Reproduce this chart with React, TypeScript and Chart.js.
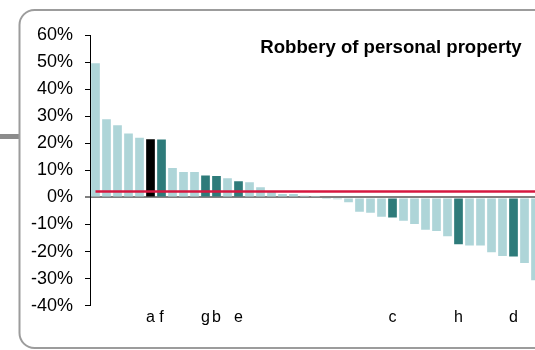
import React, { useEffect, useRef } from "react";
import { Chart, registerables } from "chart.js";

Chart.register(...registerables);

const TITLE = "Robbery of personal property";

const categories: string[] = [
  "", "", "", "", "", "a", "f", "", "", "", "g", "b", "", "e", "", "", "", "", "", "", "",
  "", "", "", "", "", "", "c", "", "", "", "", "", "h", "", "", "", "", "d", "", "",
];

const changeValues: number[] = [
  49.6, 28.9, 26.7, 23.6, 22.0, 21.5, 21.4, 10.9, 9.4, 9.4, 8.1, 7.9, 7.1, 6.0, 5.6, 3.8, 2.4, 1.3, 1.3, 0.6, 0.2,
  -0.2, -0.7, -1.8, -5.3, -5.7, -7.1, -7.4, -8.6, -9.8, -11.9, -12.4, -14.3, -17.3, -17.8, -17.8, -20.3, -21.6, -21.8, -24.2, -30.6,
];

const averageValue = 2.2;

const yTicks: number[] = [60, 50, 40, 30, 20, 10, 0, -10, -20, -30, -40];

const LIGHT = "#aed5d8";
const DARK = "#2e7b7a";
const BLACK = "#000000";
const RED = "#d6173f";

const decorPlugin = {
  id: "decor",
  beforeDraw(chart: any) {
    const ctx = chart.ctx;
    ctx.save();
    // left connector band
    ctx.fillStyle = "#8c8c8c";
    ctx.fillRect(0, 134, 19, 5);
    // rounded frame
    ctx.strokeStyle = "#9c9c9c";
    ctx.lineWidth = 2;
    const x = 19.5, y = 10, w = 700, h = 338, r = 15;
    ctx.beginPath();
    ctx.moveTo(x + r, y);
    ctx.lineTo(x + w, y);
    ctx.moveTo(x + w, y + h);
    ctx.lineTo(x + r, y + h);
    ctx.arcTo(x, y + h, x, y + h - r, r);
    ctx.lineTo(x, y + r);
    ctx.arcTo(x, y, x + r, y, r);
    ctx.stroke();
    ctx.restore();
  },
  afterDraw(chart: any) {
    const ctx = chart.ctx;
    ctx.save();
    ctx.fillStyle = "#000";
    ctx.font = "bold 18.6px 'Liberation Sans', Arial, sans-serif";
    ctx.textAlign = "center";
    ctx.textBaseline = "middle";
    ctx.fillText(TITLE, 391, 48);
    ctx.restore();
  },
};

export default function App() {
  const canvasRef = useRef<HTMLCanvasElement | null>(null);

  useEffect(() => {
    const canvas = canvasRef.current;
    if (!canvas) return;
    const colors = categories.map((c) => (c === "a" ? BLACK : c ? DARK : LIGHT));
    const chart = new Chart(canvas, {
      type: "bar",
      data: {
        labels: categories,
        datasets: [
          {
            type: "line",
            data: categories.map(() => averageValue),
            borderColor: RED,
            borderWidth: 2.5,
            pointRadius: 0,
            fill: false,
            order: 0,
          } as any,
          {
            type: "bar",
            data: changeValues,
            backgroundColor: colors,
            borderWidth: 0,
            barPercentage: 0.79,
            categoryPercentage: 1,
            order: 1,
          },
        ],
      },
      options: {
        animation: false,
        responsive: false,
        devicePixelRatio: 1,
        layout: { padding: { top: 35, right: 19, bottom: 0, left: 0 } },
        plugins: {
          legend: { display: false },
          title: { display: false },
          tooltip: { enabled: false },
        },
        scales: {
          x: {
            type: "category",
            grid: { display: false, drawTicks: false },
            border: { display: false },
            ticks: {
              autoSkip: false,
              maxRotation: 0,
              minRotation: 0,
              padding: 2,
              color: "#000",
              font: { family: "'Liberation Sans', Arial, sans-serif", size: 16 },
            },
            afterFit(scale: any) {
              scale.height = 44.3;
            },
          },
          y: {
            min: -40,
            max: 60,
            afterBuildTicks(scale: any) {
              scale.ticks = yTicks.map((v) => ({ value: v }));
            },
            ticks: {
              padding: 12,
              color: "#000",
              font: { family: "'Liberation Sans', Arial, sans-serif", size: 18 },
              callback: (v: any) => `${v}%`,
            },
            grid: {
              drawOnChartArea: true,
              color: (c: any) => (c.tick && c.tick.value === 0 ? "#808080" : "rgba(0,0,0,0)"),
              lineWidth: (c: any) => (c.tick && c.tick.value === 0 ? 2 : 1),
              tickColor: "#000",
              tickLength: 5,
              tickWidth: 1,
            },
            border: { display: true, color: "#000", width: 1 },
            afterFit(scale: any) {
              scale.width = 90;
            },
          },
        },
      },
      plugins: [decorPlugin],
    });
    return () => chart.destroy();
  }, []);

  return (
    <div
      style={{
        position: "fixed",
        left: 0,
        top: 0,
        width: 535,
        height: 350,
        overflow: "hidden",
        background: "#fff",
      }}
    >
      <canvas ref={canvasRef} width={560} height={350} style={{ width: 560, height: 350, display: "block" }} />
    </div>
  );
}
